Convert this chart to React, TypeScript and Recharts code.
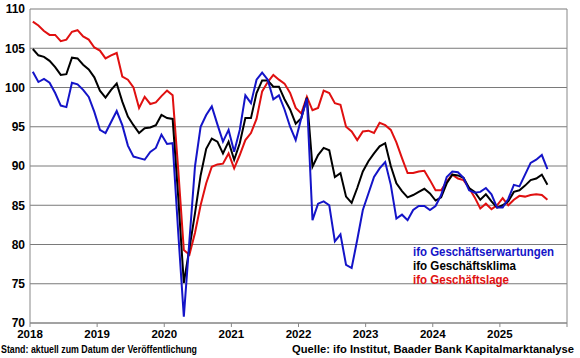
import React from 'react';
import { LineChart, Line, XAxis, YAxis, CartesianGrid, ReferenceLine } from 'recharts';

// monthly ifo values, Jan 2018 .. Sep 2025
const erwartungen = [
  102.0, 100.7, 101.1, 100.6, 99.3, 97.7, 97.5, 100.6, 100.4, 99.7, 98.8, 96.9,
  94.6, 94.2, 95.6, 97.0, 95.2, 92.6, 91.2, 91.0, 90.8, 91.8, 92.3, 94.0,
  92.8, 92.9, 81.5, 70.8, 80.5, 90.0, 95.0, 96.5, 97.6, 95.3, 93.1, 94.6,
  91.8, 94.6, 99.0, 98.0, 101.0, 101.9, 101.0, 98.5, 99.0, 97.2, 95.0, 93.3,
  96.1, 98.6, 83.1, 85.2, 85.5, 85.0, 80.4, 81.3, 77.4, 77.0, 80.6, 84.4,
  86.5, 88.6, 89.7, 90.5, 87.6, 83.3, 83.8, 83.1, 84.4, 84.9, 84.9, 84.4,
  84.9, 86.3, 88.6, 89.3, 89.2, 88.5, 86.9, 86.6, 86.7, 87.2, 86.4, 84.7,
  84.7, 85.8, 87.6, 87.4, 88.9, 90.4, 90.8, 91.4, 89.6,
];

const klima = [
  104.9, 104.1, 103.9, 103.4, 102.6, 101.6, 101.7, 103.8, 103.7, 102.9, 102.3, 101.3,
  99.6, 98.7, 99.7, 100.5, 98.2, 96.3, 95.2, 94.2, 94.8, 94.9, 95.2, 96.5,
  96.1, 96.0, 86.0, 75.1, 79.5, 84.0, 88.8, 92.2, 93.5, 93.1, 91.6, 93.1,
  90.8, 92.9, 96.1, 96.1, 99.3, 100.9, 100.9, 100.1, 100.1, 98.5, 97.2, 95.4,
  96.1, 98.7, 89.9, 91.4, 92.3, 92.0, 88.6, 89.1, 86.1, 85.3, 87.2, 89.3,
  90.6, 91.6, 92.5, 92.9, 90.0, 87.8, 86.8, 86.0, 86.3, 86.7, 87.1, 86.5,
  85.6, 86.0, 87.8, 88.9, 88.8, 88.5, 87.2, 86.7, 85.7, 86.4, 85.5, 84.7,
  85.0, 85.5, 86.7, 86.9, 87.5, 88.2, 88.4, 88.9, 87.6,
];

const lage = [
  108.4, 107.9, 107.2, 106.7, 106.7, 105.9, 106.1, 107.1, 107.3, 106.5, 106.1, 105.1,
  104.7, 103.7, 104.1, 104.4, 101.4, 101.0, 100.0, 97.4, 98.8, 97.9, 98.1, 98.9,
  99.6, 99.0, 89.5, 79.3, 78.7, 81.5, 85.0, 87.8, 89.9, 90.2, 90.3, 91.6,
  89.7, 91.4, 93.3, 94.2, 96.0, 99.5, 100.7, 101.6, 101.0, 100.5, 99.3, 97.4,
  96.7, 98.8, 97.1, 97.4, 99.6, 99.3, 98.0, 97.8, 95.0, 94.4, 93.3, 94.4,
  94.5, 94.2, 95.5, 95.2, 94.6, 93.0, 91.0, 89.1, 89.1, 89.3, 89.4, 88.2,
  86.9, 86.9, 88.0, 88.9, 88.4, 88.2, 87.2, 86.0, 84.6, 85.2, 84.5, 85.0,
  85.9, 85.0, 85.7, 86.2, 86.1, 86.3, 86.4, 86.3, 85.7,
];

const years = ['2018', '2019', '2020', '2021', '2022', '2023', '2024', '2025', ''];
const yTicks = [70, 75, 80, 85, 90, 95, 100, 105, 110];

const FONT = 'Arial, "Liberation Sans", sans-serif';
const BLUE = '#1414c8';
const RED = '#e01010';

// months since Jan 2018, points sit mid-month
const data = erwartungen.map((v, i) => ({
  t: i + 0.5,
  erw: v,
  klima: klima[i],
  lage: lage[i],
}));
const xTicks = years.map((_, i) => i * 12);

export default function App() {
  return (
    <div style={{ position: 'absolute', left: 0, top: 0, width: 580, height: 358, background: '#fff' }}>
      <LineChart width={580} height={358} data={data} margin={{ top: 9, right: 13, left: 0, bottom: 0 }}>
        <CartesianGrid vertical={false} stroke="#7a7a7a" />
        <XAxis
          type="number"
          dataKey="t"
          domain={[0, 96]}
          ticks={xTicks}
          tickFormatter={(v: number) => years[v / 12]}
          height={35}
          stroke="#888"
          tickSize={4}
          tickMargin={3}
          tick={{ fill: '#000', fontSize: 11.5, fontWeight: 'bold', fontFamily: FONT }}
        />
        <YAxis
          domain={[70, 110]}
          ticks={yTicks}
          width={30}
          stroke="#888"
          tickLine={false}
          tickSize={0}
          tickMargin={5}
          tick={{ fill: '#000', fontSize: 12, fontWeight: 'bold', fontFamily: FONT }}
        />
        <ReferenceLine x={96} stroke="#888" />
        <Line dataKey="lage" stroke={RED} strokeWidth={2} dot={false} isAnimationActive={false} />
        <Line dataKey="klima" stroke="#000" strokeWidth={2} dot={false} isAnimationActive={false} />
        <Line dataKey="erw" stroke={BLUE} strokeWidth={2} dot={false} isAnimationActive={false} />
      </LineChart>
      <svg width={580} height={358} style={{ position: 'absolute', left: 0, top: 0, pointerEvents: 'none' }}>
        <g fontFamily={FONT} fontWeight="bold">
          <text x={413} y={256} fontSize={12} fill={BLUE} textLength={141} lengthAdjust="spacingAndGlyphs">
            ifo Geschäftserwartungen
          </text>
          <text x={413} y={270} fontSize={12} fill="#000" textLength={103} lengthAdjust="spacingAndGlyphs">
            ifo Geschäftsklima
          </text>
          <text x={413} y={284} fontSize={12} fill={RED} textLength={96} lengthAdjust="spacingAndGlyphs">
            ifo Geschäftslage
          </text>
          <text x={1} y={353} fontSize={10} fill="#000" textLength={196} lengthAdjust="spacingAndGlyphs">
            Stand: aktuell zum Datum der Veröffentlichung
          </text>
          <text x={292} y={353} fontSize={11.5} fill="#000" textLength={282} lengthAdjust="spacingAndGlyphs">
            Quelle: ifo Institut, Baader Bank Kapitalmarktanalyse
          </text>
        </g>
      </svg>
    </div>
  );
}
